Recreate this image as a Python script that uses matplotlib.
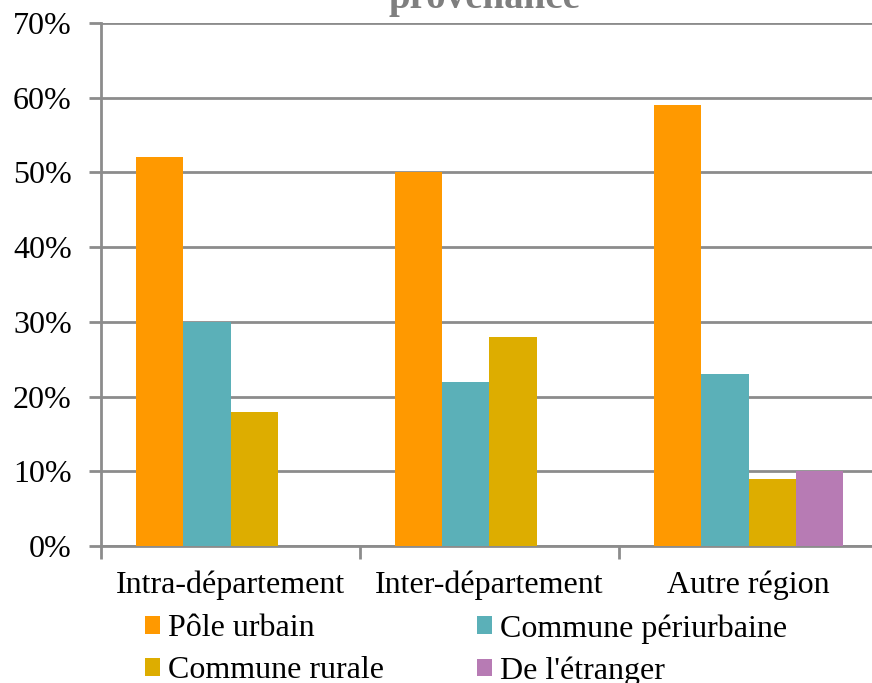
import numpy as np
import matplotlib
matplotlib.use("Agg")
import matplotlib.pyplot as plt
from matplotlib.patches import Patch

categories = ["Intra-département", "Inter-département", "Autre région"]
series = ["Pôle urbain", "Commune périurbaine", "Commune rurale", "De l'étranger"]
pole_urbain = [52, 50, 59]
periurbaine = [30, 22, 23]
rurale = [18, 28, 9]
etranger = [0, 0, 10]
colors = ["#FF9900", "#5BB0B8", "#DDAD00", "#B77BB4"]
y_ticks = [0, 10, 20, 30, 40, 50, 60, 70]

plt.rcParams["font.family"] = ["Liberation Serif", "DejaVu Serif"]
grey = "#8C8C8C"
fs = 23

fig = plt.figure(figsize=(8.72, 6.83), dpi=100)
ax = fig.add_axes([101 / 872, 137 / 683, 777 / 872, 523 / 683])

values = [pole_urbain, periurbaine, rurale, etranger]
x = np.arange(len(categories))
width = 0.183
for i, (vals, col) in enumerate(zip(values, colors)):
    ax.bar(x + (i - 1.5) * width, vals, width, color=col, zorder=3)

ax.set_xlim(-0.5, len(categories) - 0.5)
ax.set_ylim(0, 70)
ax.set_yticks(y_ticks)
ax.set_yticklabels([f"{v}%" for v in y_ticks], fontsize=fs)
ax.yaxis.grid(True, color=grey, linewidth=2, zorder=0)

# category labels at centres, ticks at boundaries
ax.set_xticks(np.arange(-0.5, len(categories)))
ax.set_xticklabels([])
ax.set_xticks(x, minor=True)
ax.set_xticklabels(categories, minor=True, fontsize=fs)
ax.tick_params(axis="x", which="minor", length=0, pad=18)
ax.tick_params(axis="x", which="major", length=9, width=2, color=grey)
ax.tick_params(axis="y", length=9, width=2, color=grey, pad=12)

for s in ["top", "right"]:
    ax.spines[s].set_visible(False)
for s in ["left", "bottom"]:
    ax.spines[s].set_color(grey)
    ax.spines[s].set_linewidth(2)

fig.text(0.555, 1 - 8 / 683, "provenance", ha="center", va="baseline",
         fontsize=28, fontweight="bold", color="#7F7F7F")

handles = [Patch(facecolor=c, edgecolor="none") for c in colors]
order = [0, 2, 1, 3]
fig.legend([handles[i] for i in order], [series[i] for i in order], ncol=2,
           loc="upper left", bbox_to_anchor=(145 / 872, 1 - 614 / 683),
           frameon=False, fontsize=fs, handlelength=0.47, handleheight=0.47,
           handletextpad=0.25, columnspacing=2.9, labelspacing=0.4,
           borderpad=0, borderaxespad=0)

fig.savefig("out.png", dpi=100)
